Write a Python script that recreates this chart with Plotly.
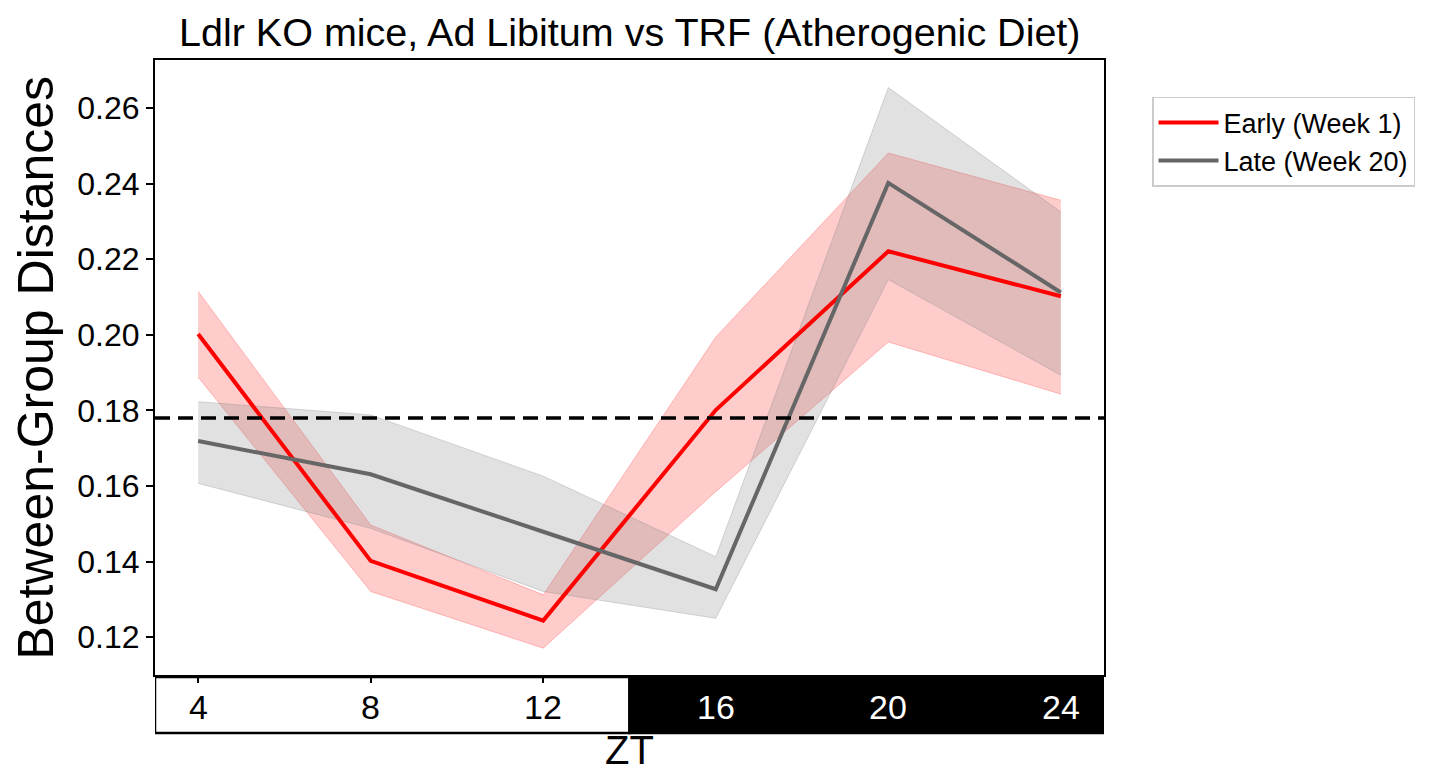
import plotly.graph_objects as go

zt = [4, 8, 12, 16, 20, 24]
tick_labels = ["4", "8", "12", "16", "20", "24"]

early_mean = [0.2002, 0.1402, 0.1244, 0.1801, 0.2221, 0.2102]
early_upper = [0.2115, 0.1497, 0.1312, 0.1994, 0.2481, 0.2356]
early_lower = [0.1888, 0.1321, 0.1171, 0.1585, 0.1981, 0.1843]

late_mean = [0.1719, 0.1631, 0.1479, 0.1327, 0.2402, 0.2112]
late_upper = [0.1823, 0.1788, 0.1626, 0.1413, 0.2654, 0.2325]
late_lower = [0.1607, 0.1488, 0.1321, 0.1250, 0.2146, 0.1893]

threshold = 0.178
dark_start = 14
x_range = [3, 25]
y_range = [0.110, 0.2727]
y_ticks = [0.12, 0.14, 0.16, 0.18, 0.20, 0.22, 0.24, 0.26]

FONT = "Liberation Sans, Arial, sans-serif"

fig = go.Figure()

def band(lower, upper, fill, edge):
    fig.add_trace(go.Scatter(x=zt, y=upper, mode="lines", line=dict(color=edge, width=1),
                             showlegend=False, hoverinfo="skip"))
    fig.add_trace(go.Scatter(x=zt, y=lower, mode="lines", line=dict(color=edge, width=1),
                             fill="tonexty", fillcolor=fill, showlegend=False, hoverinfo="skip"))

band(early_lower, early_upper, "rgba(255,0,0,0.2)", "rgba(255,0,0,0.22)")
band(late_lower, late_upper, "rgba(128,128,128,0.24)", "rgba(128,128,128,0.3)")

fig.add_trace(go.Scatter(x=zt, y=early_mean, mode="lines", name="Early (Week 1)",
                         line=dict(color="#FF0000", width=4)))
fig.add_trace(go.Scatter(x=zt, y=late_mean, mode="lines", name="Late (Week 20)",
                         line=dict(color="#666666", width=4)))

fig.add_shape(type="line", xref="paper", yref="y", x0=0, x1=1, y0=threshold, y1=threshold,
              line=dict(color="black", width=3.5, dash="15px,8px"))

# light/dark bar below the plot
band_top, band_bot = -0.0033, -0.0943
fig.add_shape(type="rect", xref="x", yref="paper", x0=x_range[0], x1=dark_start,
              y0=band_bot, y1=band_top, fillcolor="white", line=dict(color="black", width=2.5),
              layer="below")
fig.add_shape(type="rect", xref="x", yref="paper", x0=dark_start, x1=x_range[1],
              y0=band_bot, y1=band_top, fillcolor="black", line=dict(color="black", width=2.5),
              layer="below")
for t, lab in zip(zt, tick_labels):
    fig.add_annotation(x=t, y=-0.052, xref="x", yref="paper", text=lab, showarrow=False,
                       font=dict(size=34, family=FONT, color="white" if t >= dark_start else "black"),
                       yanchor="middle")

fig.add_annotation(x=0.5, y=-0.161, xref="paper", yref="paper", text="ZT", showarrow=False,
                   font=dict(size=40, family=FONT, color="black"), yanchor="bottom")
fig.add_annotation(x=-0.1264, y=0.5, xref="paper", yref="paper", text="Between-Group Distances",
                   textangle=-90, showarrow=False, font=dict(size=50, family=FONT, color="black"),
                   xanchor="center", yanchor="middle")
fig.add_annotation(x=0.5, y=1.0455, xref="paper", yref="paper",
                   text="Ldlr KO mice, Ad Libitum vs TRF (Atherogenic Diet)", showarrow=False,
                   font=dict(size=39.5, family=FONT, color="black"), yanchor="middle")

fig.update_layout(
    width=1424, height=766,
    margin=dict(l=147, r=328, t=52, b=99),
    plot_bgcolor="white", paper_bgcolor="white",
    font=dict(family=FONT, color="black"),
    xaxis=dict(range=x_range, tickvals=zt, showticklabels=False, ticks="outside", ticklen=6,
               tickwidth=1.5, tickcolor="black", showgrid=False, zeroline=False,
               showline=True, linecolor="black", linewidth=2, mirror=True),
    yaxis=dict(range=y_range, tickvals=y_ticks, tickformat=".2f", ticks="outside", ticklen=7,
               tickwidth=1.5, tickcolor="black", showgrid=False, zeroline=False,
               showline=True, linecolor="black", linewidth=2, mirror=True,
               tickfont=dict(size=32, family=FONT, color="black")),
    legend=dict(x=1.0506, y=0.94, xanchor="left", yanchor="top", bordercolor="#cccccc",
                borderwidth=1.5, bgcolor="white", font=dict(size=27, family=FONT, color="black"),
                traceorder="normal", itemwidth=60),
)

fig.write_html("out.html")
